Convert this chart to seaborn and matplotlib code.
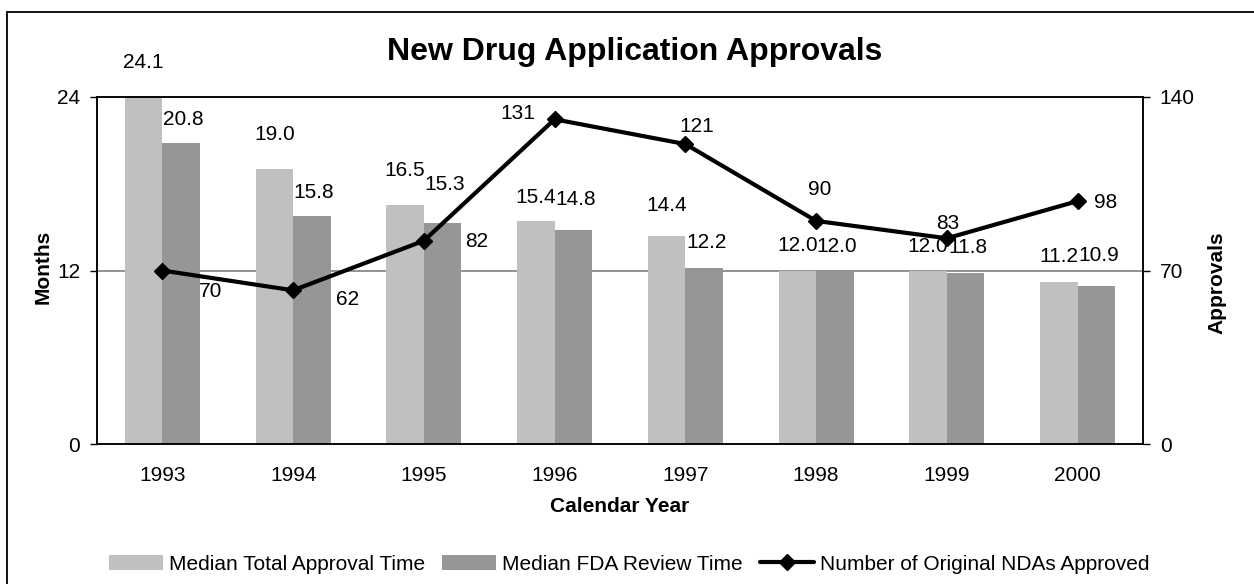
import numpy as np
import pandas as pd
import matplotlib
matplotlib.use("Agg")
import matplotlib.pyplot as plt
from matplotlib.lines import Line2D
from matplotlib.patches import Patch
import seaborn as sns

# ---- data ----
years = ["1993", "1994", "1995", "1996", "1997", "1998", "1999", "2000"]
total_time = [24.1, 19.0, 16.5, 15.4, 14.4, 12.0, 12.0, 11.2]
review_time = [20.8, 15.8, 15.3, 14.8, 12.2, 12.0, 11.8, 10.9]
approvals = [70, 62, 82, 131, 121, 90, 83, 98]

series_names = ["Median Total Approval Time", "Median FDA Review Time"]
line_name = "Number of Original NDAs Approved"

# ---- label placement (pixel offsets from the mark) ----
light_lbl_dy = [33, 35, 35, 24, 30, 25, 24, 26]
dark_lbl_dy = [24, 23, 38, 31, 25, 24, 26, 31]
line_lbl_off = [(48, -21), (54, -9), (53, -1), (-37, 6), (11, 18), (4, 31), (1, 15), (28, -1)]

LIGHT = "#C0C0C0"
DARK = "#969696"
FS = 15

sns.set_style("white")
plt.rcParams["font.family"] = ["Liberation Sans", "DejaVu Sans"]
plt.rcParams["text.color"] = "black"
plt.rcParams["axes.labelcolor"] = "black"
plt.rcParams["xtick.color"] = "black"
plt.rcParams["ytick.color"] = "black"

W, H, DPI = 1254, 584, 100
fig = plt.figure(figsize=(W / DPI, H / DPI), dpi=DPI)
ax = fig.add_axes([97 / W, 1 - 444 / H, (1143 - 97) / W, (444 - 97) / H])

df = pd.DataFrame({
    "year": years * 2,
    "months": total_time + review_time,
    "series": [series_names[0]] * len(years) + [series_names[1]] * len(years),
})

ax.axhline(12, color="#808080", lw=1.2, zorder=0)
sns.barplot(data=df, x="year", y="months", hue="series", hue_order=series_names,
            palette=[LIGHT, DARK], saturation=1, width=0.574, dodge=True,
            errorbar=None, linewidth=0, legend=False, ax=ax, zorder=2)
for p in ax.patches:
    p.set_clip_on(False)

ax.set_xlim(-0.5, len(years) - 0.5)
ax.set_ylim(0, 24)
ax.set_yticks([0, 12, 24])
ax.set_xlabel("")
ax.set_ylabel("")
ax.set_xticks(np.arange(-0.5, len(years), 1), minor=True)
ax.tick_params(axis="x", which="major", length=0, pad=16, labelsize=FS)
ax.tick_params(axis="x", which="minor", direction="inout", length=10, width=1, color="black")
ax.tick_params(axis="y", direction="out", length=5, width=1, pad=7, labelsize=FS,
               left=True, color="black")
for s in ax.spines.values():
    s.set_color("black")
    s.set_linewidth(1.1)

# bar value labels
for cont, vals, dys, dx in zip(ax.containers, [total_time, review_time],
                               [light_lbl_dy, dark_lbl_dy], [0, 2]):
    for bar, v, dy in zip(cont.patches, vals, dys):
        ax.annotate(f"{v:.1f}", (bar.get_x() + bar.get_width() / 2, bar.get_height()),
                    xytext=(dx, dy), textcoords="offset pixels",
                    ha="center", va="center", fontsize=FS, annotation_clip=False)

# approvals line on the secondary axis
ax2 = ax.twinx()
xpos = np.arange(len(years))
sns.lineplot(x=xpos, y=approvals, ax=ax2, color="black", lw=3.0, marker="D",
             markersize=8, markeredgecolor="black", markeredgewidth=1, sort=False)
ax2.set_ylim(0, 140)
ax2.set_yticks([0, 70, 140])
ax2.set_ylabel("")
ax2.tick_params(axis="y", direction="out", length=5, width=1, pad=7, labelsize=FS,
                right=True, color="black")
for s in ax2.spines.values():
    s.set_color("black")
    s.set_linewidth(1.1)
ax.set_xlim(-0.5, len(years) - 0.5)

for x, v, (dx, dy) in zip(xpos, approvals, line_lbl_off):
    ax2.annotate(str(v), (x, v), xytext=(dx, dy), textcoords="offset pixels",
                 ha="center", va="center", fontsize=FS, annotation_clip=False)

# titles
fig.text(635 / W, 1 - 60 / H, "New Drug Application Approvals", ha="center",
         va="baseline", fontsize=23, fontweight="bold")
fig.text(620 / W, 1 - 507 / H, "Calendar Year", ha="center", va="center",
         fontsize=15, fontweight="bold")
fig.text(43 / W, 1 - 267 / H, "Months", ha="center", va="center", rotation=90,
         fontsize=15, fontweight="bold")
fig.text(1217 / W, 1 - 283 / H, "Approvals", ha="center", va="center", rotation=90,
         fontsize=15, fontweight="bold")

# legend
handles = [
    Patch(facecolor=LIGHT, edgecolor="none", label=series_names[0]),
    Patch(facecolor=DARK, edgecolor="none", label=series_names[1]),
    Line2D([0], [0], color="black", lw=3.0, marker="D", markersize=8, label=line_name),
]
fig.legend(handles=handles, loc="center", bbox_to_anchor=(629 / W, 1 - 564 / H),
           ncol=3, frameon=False, fontsize=FS, handlelength=2.6, handleheight=0.7,
           handletextpad=0.3, columnspacing=0.8, borderpad=0)

# chart frame
fig.add_artist(Line2D([6.5 / W, 6.5 / W], [0, 1 - 11.5 / H], color="black", lw=1.3))
fig.add_artist(Line2D([6.5 / W, 1], [1 - 11.5 / H, 1 - 11.5 / H], color="black", lw=1.3))

fig.savefig("out.png", dpi=DPI)
